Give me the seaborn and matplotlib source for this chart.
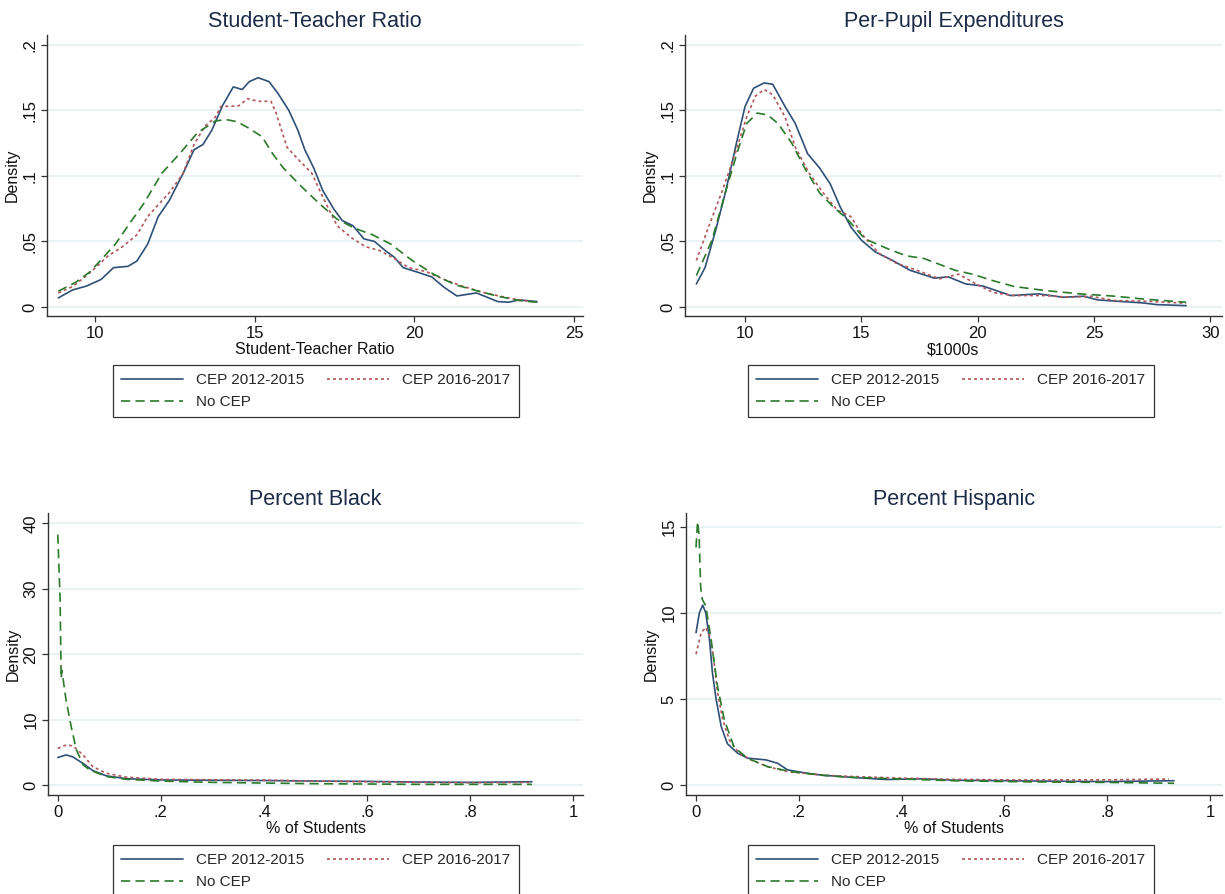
import numpy as np
import pandas as pd
import matplotlib
matplotlib.use("Agg")
import matplotlib.pyplot as plt
import seaborn as sns

# ---------------- data ----------------
labels = ["CEP 2012-2015", "CEP 2016-2017", "No CEP"]

# Panel 1: Student-Teacher Ratio
st_x_a = [8.85, 9.3, 9.74, 10.19, 10.58, 11.03, 11.31, 11.65, 11.98, 12.32, 12.76, 13.1, 13.38, 13.66, 14.0,
          14.33, 14.61, 14.83, 15.11, 15.45, 15.73, 16.07, 16.35, 16.57, 16.85, 17.13, 17.47, 17.74, 18.08,
          18.42, 18.75, 19.09, 19.37, 19.65, 20.04, 20.54, 20.93, 21.33, 21.94, 22.28, 22.61, 22.95, 23.28, 23.84]
st_y_a = [0.0069, 0.013, 0.016, 0.021, 0.030, 0.031, 0.035, 0.048, 0.069, 0.081, 0.102, 0.120, 0.124, 0.135, 0.154,
          0.168, 0.166, 0.172, 0.175, 0.172, 0.163, 0.150, 0.135, 0.120, 0.106, 0.089, 0.075, 0.066, 0.062,
          0.052, 0.050, 0.043, 0.038, 0.030, 0.027, 0.023, 0.015, 0.0084, 0.0107, 0.0074, 0.0041, 0.0036, 0.0054, 0.0041]
st_x_b = [8.85, 9.3, 9.74, 9.97, 10.41, 10.86, 11.31, 11.65, 11.98, 12.32, 12.76, 13.1, 13.44, 13.77, 13.94,
          14.5, 14.78, 15.11, 15.51, 15.67, 16.01, 16.35, 16.79, 17.13, 17.58, 18.02, 18.47, 18.92, 19.37,
          19.82, 20.37, 20.93, 21.49, 22.17, 22.84, 23.28, 23.84]
st_y_b = [0.0107, 0.0156, 0.024, 0.029, 0.039, 0.046, 0.055, 0.069, 0.078, 0.087, 0.102, 0.124, 0.138, 0.145, 0.153,
          0.1535, 0.159, 0.157, 0.157, 0.148, 0.122, 0.113, 0.102, 0.084, 0.062, 0.053, 0.046, 0.043, 0.037,
          0.030, 0.027, 0.021, 0.016, 0.011, 0.0074, 0.0054, 0.0036]
st_x_c = [8.85, 9.41, 9.85, 10.19, 10.64, 11.09, 11.53, 12.09, 12.65, 13.21, 13.77, 14.11, 14.44, 14.78, 15.23,
          15.56, 15.9, 16.46, 17.02, 17.58, 18.14, 18.7, 19.26, 19.93, 20.6, 21.27, 21.94, 22.61, 23.28, 23.84]
st_y_c = [0.012, 0.019, 0.027, 0.036, 0.048, 0.064, 0.079, 0.102, 0.117, 0.133, 0.142, 0.143, 0.1415, 0.137, 0.130,
          0.117, 0.106, 0.092, 0.079, 0.067, 0.060, 0.055, 0.048, 0.0355, 0.025, 0.017, 0.0125, 0.0082, 0.0049, 0.0036]

# Panel 2: Per-Pupil Expenditures ($1000s)
pp_x_a = [7.91, 8.28, 8.73, 9.18, 9.63, 10.0, 10.37, 10.82, 11.19, 11.72, 12.16, 12.69, 13.21, 13.66, 14.1,
          14.55, 15.0, 15.6, 16.34, 17.09, 18.13, 18.73, 19.48, 20.22, 21.42, 22.61, 23.66, 24.55, 25.15,
          26.04, 27.09, 27.69, 28.96]
pp_y_a = [0.0176, 0.030, 0.058, 0.089, 0.125, 0.153, 0.167, 0.171, 0.170, 0.153, 0.140, 0.117, 0.106, 0.094, 0.076,
          0.061, 0.051, 0.042, 0.0355, 0.028, 0.022, 0.023, 0.0176, 0.016, 0.0087, 0.010, 0.0074, 0.0082, 0.0054,
          0.0043, 0.0031, 0.0018, 0.0010]
pp_x_b = [7.91, 8.43, 9.03, 9.63, 10.07, 10.45, 10.82, 11.19, 11.72, 12.16, 12.76, 13.36, 13.96, 14.55, 15.0,
          15.75, 16.49, 17.39, 18.36, 19.18, 19.93, 20.67, 21.57, 22.91, 23.96, 24.85, 25.9, 27.39, 28.96]
pp_y_b = [0.0355, 0.061, 0.089, 0.120, 0.145, 0.161, 0.166, 0.162, 0.145, 0.122, 0.102, 0.087, 0.074, 0.069, 0.056,
          0.041, 0.0335, 0.028, 0.0215, 0.025, 0.0176, 0.011, 0.0087, 0.0087, 0.0074, 0.0082, 0.0049, 0.0043, 0.0028]
pp_x_c = [7.91, 8.58, 9.18, 9.7, 10.07, 10.52, 10.97, 11.42, 12.01, 12.61, 13.21, 13.81, 14.4, 15.15, 16.19,
          16.94, 17.69, 19.03, 19.78, 20.67, 21.57, 22.91, 24.4, 25.9, 27.09, 28.96]
pp_y_c = [0.024, 0.051, 0.089, 0.120, 0.140, 0.148, 0.1466, 0.140, 0.125, 0.1045, 0.087, 0.076, 0.067, 0.052, 0.044,
          0.039, 0.037, 0.028, 0.025, 0.020, 0.0156, 0.0125, 0.010, 0.0082, 0.0061, 0.0036]

# Panel 3: Percent Black (share of students)
bl_x_a = [0.0, 0.016, 0.029, 0.049, 0.068, 0.094, 0.133, 0.2, 0.3, 0.4, 0.5, 0.6, 0.7, 0.8, 0.92]
bl_y_a = [4.2, 4.6, 4.3, 3.3, 2.2, 1.4, 0.97, 0.77, 0.72, 0.68, 0.6, 0.55, 0.45, 0.4, 0.5]
bl_x_b = [0.0, 0.016, 0.029, 0.049, 0.068, 0.094, 0.133, 0.2, 0.3, 0.4, 0.5, 0.6, 0.7, 0.8, 0.92]
bl_y_b = [5.6, 6.1, 6.0, 4.6, 2.8, 1.8, 1.2, 0.87, 0.8, 0.75, 0.6, 0.5, 0.4, 0.35, 0.4]
bl_x_c = [0.0, 0.0045, 0.0065, 0.008, 0.016, 0.026, 0.036, 0.049, 0.062, 0.094, 0.133, 0.2, 0.3, 0.4, 0.5, 0.6, 0.7, 0.8, 0.92]
bl_y_c = [38.3, 28.3, 16.3, 17.5, 13.0, 8.9, 5.4, 3.1, 2.3, 1.3, 0.87, 0.6, 0.4, 0.3, 0.2, 0.15, 0.1, 0.1, 0.1]

# Panel 4: Percent Hispanic (share of students)
hi_x_a = [0.0, 0.0065, 0.013, 0.019, 0.026, 0.032, 0.039, 0.049, 0.061, 0.081, 0.1, 0.136, 0.159, 0.178, 0.217,
          0.243, 0.3, 0.37, 0.44, 0.5, 0.6, 0.7, 0.8, 0.93]
hi_y_a = [8.85, 10.0, 10.45, 10.0, 8.5, 6.5, 5.0, 3.4, 2.4, 1.85, 1.56, 1.46, 1.26, 0.88, 0.68,
          0.58, 0.45, 0.32, 0.36, 0.28, 0.25, 0.22, 0.2, 0.25]
hi_x_b = [0.0, 0.01, 0.019, 0.029, 0.036, 0.042, 0.052, 0.065, 0.084, 0.107, 0.139, 0.178, 0.243, 0.3, 0.4,
          0.5, 0.6, 0.7, 0.8, 0.92]
hi_y_b = [7.6, 8.85, 9.15, 8.5, 6.9, 5.35, 3.8, 2.6, 1.85, 1.46, 1.07, 0.78, 0.58, 0.5, 0.4,
          0.33, 0.3, 0.3, 0.3, 0.35]
hi_x_c = [0.0, 0.003, 0.006, 0.009, 0.012, 0.019, 0.029, 0.042, 0.055, 0.074, 0.1, 0.139, 0.184, 0.25, 0.3, 0.4,
          0.5, 0.6, 0.7, 0.8, 0.93]
hi_y_c = [13.8, 15.3, 14.5, 11.5, 10.8, 10.4, 8.5, 5.7, 3.8, 2.2, 1.56, 1.07, 0.78, 0.55, 0.45, 0.35,
          0.25, 0.2, 0.17, 0.15, 0.1]

titles = ["Student-Teacher Ratio", "Per-Pupil Expenditures", "Percent Black", "Percent Hispanic"]
xlabels = ["Student-Teacher Ratio", "$1000s", "% of Students", "% of Students"]
ylabel = "Density"

xticks = [[10, 15, 20, 25], [10, 15, 20, 25, 30], [0, 0.2, 0.4, 0.6, 0.8, 1], [0, 0.2, 0.4, 0.6, 0.8, 1]]
xticklabels = [["10", "15", "20", "25"], ["10", "15", "20", "25", "30"],
               ["0", ".2", ".4", ".6", ".8", "1"], ["0", ".2", ".4", ".6", ".8", "1"]]
yticks = [[0, 0.05, 0.1, 0.15, 0.2], [0, 0.05, 0.1, 0.15, 0.2], [0, 10, 20, 30, 40], [0, 5, 10, 15]]
yticklabels = [["0", ".05", ".1", ".15", ".2"], ["0", ".05", ".1", ".15", ".2"],
               ["0", "10", "20", "30", "40"], ["0", "5", "10", "15"]]

panels = [
    [(st_x_a, st_y_a), (st_x_b, st_y_b), (st_x_c, st_y_c)],
    [(pp_x_a, pp_y_a), (pp_x_b, pp_y_b), (pp_x_c, pp_y_c)],
    [(bl_x_a, bl_y_a), (bl_x_b, bl_y_b), (bl_x_c, bl_y_c)],
    [(hi_x_a, hi_y_a), (hi_x_b, hi_y_b), (hi_x_c, hi_y_c)],
]

# ---------------- styling ----------------
sns.set_style("white")
plt.rcParams['font.family'] = ['Liberation Sans', 'DejaVu Sans']

colors = ["#2f5077", "#b0575b", "#2a7a2a"]
styles = ["-", (0, (1.8, 1.8)), (0, (5.5, 3.2))]
title_color = "#1c2b48"

W, H = 1225, 894
fig = plt.figure(figsize=(W / 100, H / 100), dpi=100)

# axes rectangles in pixels: (left, top, right, bottom)
rects = [(47, 35, 583, 316), (685, 35, 1222, 316), (48, 513, 583, 795), (686, 513, 1222, 795)]
xlims = [(8.497, 25.28), (7.42, 30.5), (-0.019, 1.019), (-0.0195, 1.0234)]
ylims = [(-0.0069, 0.2076), (-0.0069, 0.2076), (-1.53, 41.6), (-0.58, 15.8)]
legend_pos = [(113, 365), (748, 365), (113, 845), (748, 845)]

for i in range(4):
    l, t, r, b = rects[i]
    ax = fig.add_axes([l / W, 1 - b / H, (r - l) / W, (b - t) / H])
    for j, (xs, ys) in enumerate(panels[i]):
        df = pd.DataFrame({"x": xs, "y": ys})
        sns.lineplot(data=df, x="x", y="y", ax=ax, color=colors[j], linestyle=styles[j],
                     linewidth=1.2, label=labels[j], sort=False, estimator=None)
    ax.set_xlim(*xlims[i])
    ax.set_ylim(*ylims[i])
    ax.set_xticks(xticks[i])
    ax.set_xticklabels(xticklabels[i])
    ax.set_yticks(yticks[i])
    ax.set_yticklabels(yticklabels[i], rotation=90, va="center")
    ax.yaxis.grid(True, color="#e8f0f2", linewidth=1.2)
    ax.set_axisbelow(True)
    for s in ["top", "right"]:
        ax.spines[s].set_visible(False)
    for s in ["left", "bottom"]:
        ax.spines[s].set_color("#333333")
        ax.spines[s].set_linewidth(1.0)
    ax.tick_params(axis="both", which="major", direction="out", length=4, width=0.9,
                   color="#333333", labelsize=12, labelcolor="#111111", pad=3,
                   left=True, bottom=True)
    ax.set_title(titles[i], fontsize=15.5, color=title_color, pad=6)
    ax.set_xlabel(xlabels[i], fontsize=11.5, labelpad=1, color="#111111")
    ax.set_ylabel(ylabel, fontsize=11.5, labelpad=1.5, color="#111111")

    h, lab = ax.get_legend_handles_labels()
    order = [0, 2, 1]
    ax.legend([h[k] for k in order], [lab[k] for k in order], ncol=2,
              loc="upper left", bbox_to_anchor=(legend_pos[i][0] / W, 1 - legend_pos[i][1] / H),
              bbox_transform=fig.transFigure, frameon=True, fancybox=False,
              edgecolor="#333333", framealpha=1, fontsize=11,
              handlelength=4.0, handletextpad=0.9, columnspacing=1.5,
              labelspacing=0.5, borderpad=0.55, borderaxespad=0)
    ax.get_legend().get_frame().set_linewidth(0.9)

fig.savefig("out.png", dpi=100, facecolor="white")
